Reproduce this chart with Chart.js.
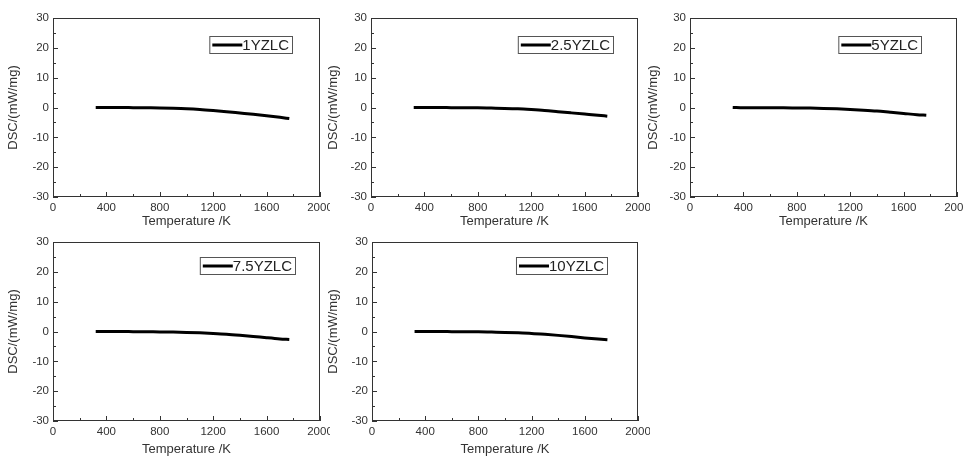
<!DOCTYPE html>
<html lang="en">
<head>
    <meta charset="utf-8">
    <title>DSC curves</title>
    <script src="https://cdn.jsdelivr.net/npm/chart.js"></script>
    <style>
        body {
            margin: 0;
            background: #fff;
            width: 964px;
            height: 457px;
            position: relative;
            overflow: hidden;
        }

        .panel {
            position: absolute;
        }
    </style>
</head>
<body>
    <div class="panel" style="left:0px;top:0px;width:330px;height:232px;"><canvas id="c1"></canvas></div>
    <div class="panel" style="left:320px;top:0px;width:330px;height:232px;"><canvas id="c2"></canvas></div>
    <div class="panel" style="left:640px;top:0px;width:324px;height:232px;"><canvas id="c3"></canvas></div>
    <div class="panel" style="left:0px;top:224px;width:330px;height:233px;"><canvas id="c4"></canvas></div>
    <div class="panel" style="left:320px;top:224px;width:330px;height:233px;"><canvas id="c5"></canvas></div>

    <script>
        // temperature (K) and DSC (mW/mg)
        const tempK = [320, 400, 500, 600, 700, 800, 900, 1000, 1100, 1200, 1300, 1400, 1500, 1600, 1700, 1770];
        const dsc1 = [0, 0, 0, -0.05, -0.1, -0.15, -0.25, -0.4, -0.65, -1.0, -1.4, -1.85, -2.3, -2.8, -3.3, -3.7];
        const dsc2 = [0, 0, 0, -0.05, -0.1, -0.1, -0.2, -0.3, -0.45, -0.7, -1.0, -1.4, -1.8, -2.2, -2.6, -2.9];
        const dsc3 = [0, -0.1, -0.1, -0.1, -0.1, -0.15, -0.2, -0.3, -0.45, -0.65, -0.9, -1.2, -1.6, -2.0, -2.4, -2.6];
        const dsc4 = [0, 0, 0, -0.05, -0.1, -0.15, -0.2, -0.3, -0.45, -0.65, -0.9, -1.25, -1.65, -2.1, -2.5, -2.7];
        const dsc5 = [0, 0, 0, -0.05, -0.1, -0.1, -0.2, -0.3, -0.45, -0.65, -0.95, -1.3, -1.7, -2.15, -2.55, -2.8];
        const sampleNames = ['1YZLC', '2.5YZLC', '5YZLC', '7.5YZLC', '10YZLC'];
        const xTicks = [0, 400, 800, 1200, 1600, 2000];
        const yTicks = [-30, -20, -10, 0, 10, 20, 30];

        const textColor = '#333';
        const fontName = "'Liberation Sans', Arial, sans-serif";

        // frame, inward ticks and the boxed legend
        const framePlugin = {
            id: 'frame',
            afterDraw(chart, args, opts) {
                const ctx = chart.ctx;
                const a = chart.chartArea;
                const xs = chart.scales.x;
                const ys = chart.scales.y;
                ctx.save();
                ctx.strokeStyle = '#333';
                ctx.lineWidth = 1;
                ctx.strokeRect(a.left + 0.5, a.top + 0.5, a.right - a.left - 1, a.bottom - a.top - 1);

                ctx.beginPath();
                for (let v = 0; v <= 2000; v += 200) {
                    const px = Math.round(xs.getPixelForValue(v)) + 0.5;
                    const len = v % 400 === 0 ? 5 : 3;
                    ctx.moveTo(px, a.bottom);
                    ctx.lineTo(px, a.bottom - len);
                }
                for (let v = -30; v <= 30; v += 5) {
                    const py = Math.round(ys.getPixelForValue(v)) + 0.5;
                    const len = v % 10 === 0 ? 5 : 3;
                    ctx.moveTo(a.left, py);
                    ctx.lineTo(a.left + len, py);
                }
                ctx.stroke();

                // legend
                const label = chart.data.datasets[0].label;
                ctx.font = '15px ' + fontName;
                const tw = ctx.measureText(label).width;
                const boxW = 36 + tw;
                const boxH = 17;
                const bx = a.right - opts.right - boxW;
                const by = a.top + opts.top;
                ctx.strokeStyle = '#555';
                ctx.strokeRect(bx + 0.5, by + 0.5, boxW, boxH);
                ctx.strokeStyle = '#000';
                ctx.lineWidth = 3;
                ctx.beginPath();
                ctx.moveTo(bx + 3, by + boxH / 2 + 0.5);
                ctx.lineTo(bx + 33, by + boxH / 2 + 0.5);
                ctx.stroke();
                ctx.fillStyle = '#222';
                ctx.textBaseline = 'middle';
                ctx.fillText(label, bx + 33, by + boxH / 2 + 1);
                ctx.restore();
            }
        };

        function makePanel(id, name, values, yWidth, xHeight, titleBottom, pad, legendPos) {
            const points = tempK.map((t, i) => ({ x: t, y: values[i] }));
            return new Chart(document.getElementById(id), {
                type: 'line',
                data: {
                    datasets: [{
                        label: name,
                        data: points,
                        borderColor: '#000',
                        borderWidth: 3,
                        pointRadius: 0,
                        fill: false,
                        cubicInterpolationMode: 'monotone'
                    }]
                },
                options: {
                    responsive: true,
                    maintainAspectRatio: false,
                    animation: false,
                    layout: { padding: pad },
                    plugins: {
                        legend: { display: false },
                        tooltip: { enabled: false },
                        frame: legendPos
                    },
                    scales: {
                        x: {
                            type: 'linear',
                            min: 0,
                            max: 2000,
                            afterBuildTicks: s => { s.ticks = xTicks.map(v => ({ value: v })); },
                            afterFit: s => { s.height = xHeight; s.paddingLeft = 0; s.paddingRight = 0; },
                            grid: { display: false, drawTicks: false },
                            border: { display: false },
                            ticks: {
                                color: textColor, font: { family: fontName, size: 11.5 }, padding: 4, maxRotation: 0,
                                callback: v => String(v)
                            },
                            title: { display: true, text: 'Temperature /K', color: textColor, font: { family: fontName, size: 13 }, padding: { top: 0, bottom: titleBottom } }
                        },
                        y: {
                            min: -30,
                            max: 30,
                            afterBuildTicks: s => { s.ticks = yTicks.map(v => ({ value: v })); },
                            afterFit: s => { s.width = yWidth; s.paddingTop = 0; s.paddingBottom = 0; },
                            grid: { display: false, drawTicks: false },
                            border: { display: false },
                            ticks: {
                                color: textColor, font: { family: fontName, size: 11.5 }, padding: 4,
                                callback: v => String(v)
                            },
                            title: { display: true, text: 'DSC/(mW/mg)', color: textColor, font: { family: fontName, size: 13 }, padding: { top: 6, bottom: 0 } }
                        }
                    }
                },
                plugins: [framePlugin]
            });
        }

        makePanel('c1', sampleNames[0], dsc1, 53, 35, 3, { top: 18, right: 10 }, { right: 28, top: 18 });
        makePanel('c2', sampleNames[1], dsc2, 51, 35, 3, { top: 18, right: 12 }, { right: 25, top: 18 });
        makePanel('c3', sampleNames[2], dsc3, 50, 35, 3, { top: 18, right: 7 }, { right: 36, top: 18 });
        makePanel('c4', sampleNames[3], dsc4, 53, 36, 0, { top: 18, right: 10 }, { right: 25, top: 15 });
        makePanel('c5', sampleNames[4], dsc5, 52, 36, 0, { top: 18, right: 12 }, { right: 31, top: 15 });
    </script>
</body>
</html>
